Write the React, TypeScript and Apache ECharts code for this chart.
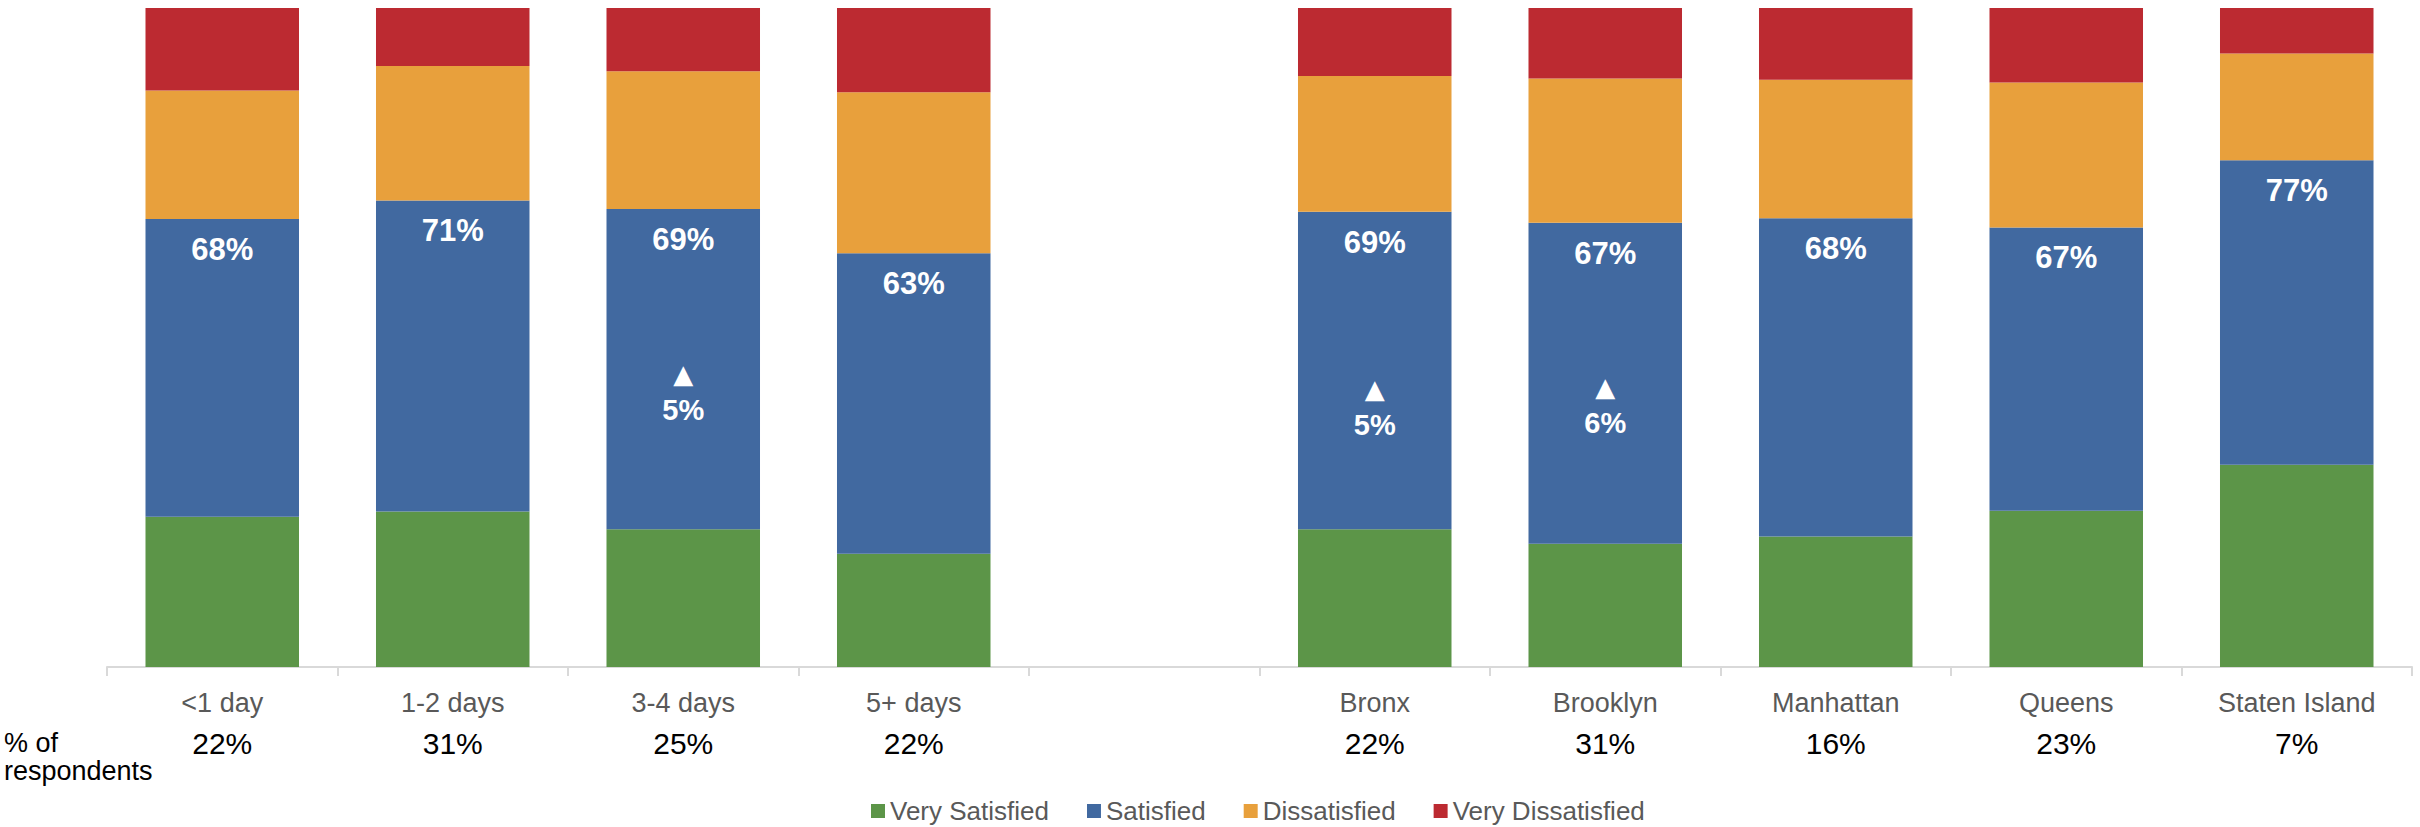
import React, { useEffect, useRef } from "react";
import * as echarts from "echarts";

const categories = ["<1 day", "1-2 days", "3-4 days", "5+ days", "", "Bronx", "Brooklyn", "Manhattan", "Queens", "Staten Island"];
const respondentShare = ["22%", "31%", "25%", "22%", "", "22%", "31%", "16%", "23%", "7%"];

const verySatisfied = [22.8, 23.6, 20.9, 17.2, null, 20.9, 18.7, 19.8, 23.7, 30.7];
const satisfied = [45.2, 47.2, 48.6, 45.6, null, 48.2, 48.7, 48.3, 43.0, 46.2];
const dissatisfied = [19.5, 20.4, 20.9, 24.4, null, 20.6, 21.9, 21.0, 22.0, 16.2];
const veryDissatisfied = [12.5, 8.8, 9.6, 12.8, null, 10.3, 10.7, 10.9, 11.3, 6.9];

const satisfiedTotals = ["68%", "71%", "69%", "63%", "", "69%", "67%", "68%", "67%", "77%"];
const increaseLabels = ["", "", "5%", "", "", "5%", "6%", "", "", ""];

// layout only: spacing between the total label and the increase marker
const markerGap = [0, 0, 106, 0, 0, 118, 105, 0, 0, 0];

const FONT = '"Liberation Sans", Arial, sans-serif';
const COLORS = ["#5C9548", "#4169A0", "#E8A03C", "#BC2A31"];

export default function App() {
  const ref = useRef<HTMLDivElement>(null);

  useEffect(() => {
    if (!ref.current) return;
    const chart = echarts.init(ref.current, null, { renderer: "svg" });

    const rich: any = {
      t: { fontSize: 31, fontWeight: "bold", color: "#fff", lineHeight: 31, fontFamily: FONT },
      tri: { fontSize: 26, color: "#fff", lineHeight: 26, fontFamily: '"DejaVu Sans", sans-serif' },
      c: { fontSize: 29, fontWeight: "bold", color: "#fff", lineHeight: 46, fontFamily: FONT },
    };
    markerGap.forEach((g, i) => {
      rich["sp" + i] = { fontSize: 10, lineHeight: g, color: "transparent" };
    });

    const satisfiedData = satisfied.map((v) => ({ value: v }));

    const barBase = {
      type: "bar",
      stack: "total",
      barCategoryGap: "33.4%",
    };

    chart.setOption({
      animation: false,
      textStyle: { fontFamily: FONT },
      grid: { left: 107, right: 8, top: 8, bottom: 160, containLabel: false, outerBoundsMode: "none" },
      legend: {
        left: 871,
        top: 798,
        padding: 0,
        itemWidth: 14,
        itemHeight: 14,
        itemGap: 38,
        icon: "rect",
        textStyle: { fontSize: 26, lineHeight: 26, color: "#595959", fontFamily: FONT },
        data: ["Very Satisfied", "Satisfied", "Dissatisfied", "Very Dissatisfied"],
      },
      xAxis: {
        type: "category",
        data: categories,
        axisLine: { lineStyle: { color: "#D9D9D9", width: 2 } },
        axisTick: { show: true, length: 9, lineStyle: { color: "#D9D9D9", width: 2 } },
        axisLabel: {
          interval: 0,
          margin: 16,
          formatter: (val: string, idx: number) =>
            val === "" ? "" : `{a|${val}}\n{b|${respondentShare[idx]}}`,
          rich: {
            a: { fontSize: 27, color: "#595959", lineHeight: 40, fontFamily: FONT },
            b: { fontSize: 30, color: "#000", lineHeight: 40, fontFamily: FONT },
          },
        },
      },
      yAxis: { type: "value", min: 0, max: 100, show: false, splitLine: { show: false } },
      graphic: [
        {
          type: "text",
          left: 4,
          top: 729,
          style: {
            text: "% of\nrespondents",
            fontSize: 27,
            lineHeight: 28,
            fontFamily: FONT,
            fill: "#000",
          },
        },
      ],
      series: [
        { ...barBase, name: "Very Satisfied", data: verySatisfied, itemStyle: { color: COLORS[0] } },
        {
          ...barBase,
          name: "Satisfied",
          data: satisfiedData,
          itemStyle: { color: COLORS[1] },
          label: {
            show: true,
            position: "insideTop",
            distance: 15,
            rich,
            formatter: (p: any) => {
              const i = p.dataIndex;
              if (!satisfiedTotals[i]) return "";
              let s = `{t|${satisfiedTotals[i]}}`;
              if (increaseLabels[i]) {
                s += `\n{sp${i}| }\n{tri|▲}\n{c|${increaseLabels[i]}}`;
              }
              return s;
            },
          },
        },
        { ...barBase, name: "Dissatisfied", data: dissatisfied, itemStyle: { color: COLORS[2] } },
        { ...barBase, name: "Very Dissatisfied", data: veryDissatisfied, itemStyle: { color: COLORS[3] } },
      ],
    });

    return () => chart.dispose();
  }, []);

  return (
    <div
      ref={ref}
      style={{ position: "fixed", left: 0, top: 0, width: 2420, height: 827, background: "#fff" }}
    />
  );
}
